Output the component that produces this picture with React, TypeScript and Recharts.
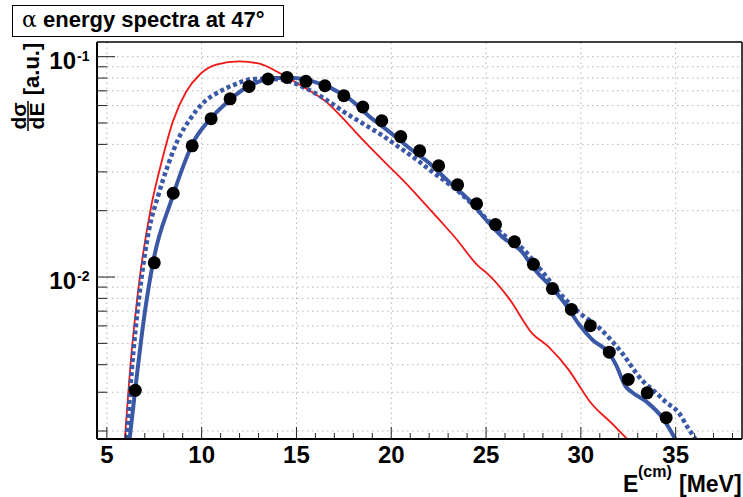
import React from "react";
import {
  ComposedChart,
  Line,
  Scatter,
  XAxis,
  YAxis,
  ReferenceLine
} from "recharts";

// measured points (E, dsigma/dE)
const dataPoints: [number, number][] = [
  [6.5, 0.00306], [7.5, 0.0116], [8.5, 0.024], [9.5, 0.0394],
  [10.5, 0.0523], [11.5, 0.0644], [12.5, 0.0733], [13.5, 0.0792],
  [14.5, 0.0805], [15.5, 0.0773], [16.5, 0.0738], [17.5, 0.0665],
  [18.5, 0.0591], [19.5, 0.0512], [20.5, 0.0434], [21.5, 0.0374],
  [22.5, 0.032], [23.5, 0.0262], [24.5, 0.0215], [25.5, 0.0173],
  [26.5, 0.01445], [27.5, 0.01142], [28.5, 0.00886], [29.5, 0.00713],
  [30.5, 0.00601], [31.5, 0.00456], [32.5, 0.00343], [33.5, 0.00298],
  [34.5, 0.0023]
];

// thin red curve
const redCurve: [number, number][] = [
  [5.95, 0.00184], [6.3, 0.0045], [6.74, 0.01], [7.35, 0.0212],
  [7.88, 0.0331], [8.49, 0.051], [9.19, 0.0695], [9.89, 0.0828],
  [10.77, 0.092], [12.0, 0.0952], [13.05, 0.0929], [14.1, 0.0844],
  [15.16, 0.0746], [16.6, 0.062], [17.44, 0.0526], [18.49, 0.042],
  [19.89, 0.0317], [20.6, 0.0276], [21.4, 0.0233], [22.53, 0.0182],
  [23.4, 0.015], [24.6, 0.0112], [25.0, 0.0105], [26.21, 0.008],
  [27.44, 0.00554], [28.3, 0.00482], [29.37, 0.00378], [30.07, 0.00306],
  [30.42, 0.00276], [31.65, 0.00216], [32.44, 0.00184]
];

// thick blue solid curve
const blueCurve: [number, number][] = [
  [6.2, 0.00184], [6.5, 0.0031], [7.0, 0.0069], [7.5, 0.0124],
  [8.41, 0.0224], [9.02, 0.0317], [9.54, 0.0406], [10.42, 0.0518],
  [11.3, 0.0616], [12.17, 0.0708], [13.05, 0.0773], [13.93, 0.08],
  [14.8, 0.08], [15.86, 0.0773], [16.85, 0.0718], [17.8, 0.0643],
  [18.84, 0.0536], [19.89, 0.0457], [20.95, 0.0385], [22.0, 0.0329],
  [23.05, 0.027], [24.1, 0.0224], [25.0, 0.0182], [25.86, 0.0152],
  [26.9, 0.013], [27.5, 0.011], [28.5, 0.0089], [29.2, 0.0075],
  [29.9, 0.0061], [30.6, 0.0052], [31.5, 0.0045], [31.85, 0.004],
  [32.35, 0.0032], [32.7, 0.003], [33.5, 0.0027], [34.3, 0.0023],
  [34.98, 0.00184]
];

// thick blue dotted curve
const blueDotted: [number, number][] = [
  [6.04, 0.00184], [6.4, 0.0046], [6.82, 0.0098], [7.2, 0.016],
  [7.7, 0.0233], [8.23, 0.0323], [8.75, 0.042], [9.37, 0.0518],
  [10.07, 0.0616], [10.95, 0.0695], [11.83, 0.0753], [12.7, 0.0792],
  [13.75, 0.0792], [14.63, 0.0773], [15.51, 0.0718], [16.6, 0.0635],
  [17.5, 0.0562], [18.49, 0.0498], [19.54, 0.0438], [20.42, 0.0388],
  [21.3, 0.0343], [22.17, 0.03], [23.05, 0.0264], [23.75, 0.0236],
  [24.8, 0.0192], [25.86, 0.0157], [26.91, 0.0135], [27.96, 0.0106],
  [29.02, 0.0082], [30.0, 0.0068], [30.95, 0.0059], [32.1, 0.0046],
  [33.23, 0.0034], [33.93, 0.003], [34.5, 0.0027], [35.2, 0.0024],
  [35.6, 0.0021], [36.04, 0.00184]
];

const xTicks = [
  5, 6, 7, 8, 9, 10, 11, 12, 13, 14, 15, 16, 17, 18, 19, 20, 21,
  22, 23, 24, 25, 26, 27, 28, 29, 30, 31, 32, 33, 34, 35, 36, 37, 38
];
const xGrid = [5, 10, 15, 20, 25, 30, 35];
const yTicks = [
  0.002, 0.003, 0.004, 0.005, 0.006, 0.007, 0.008, 0.009,
  0.01, 0.02, 0.03, 0.04, 0.05, 0.06, 0.07, 0.08, 0.09, 0.1
];

const FONT = "'Liberation Sans', Arial, sans-serif";
const BLUE = "#3a58a6";
const RED = "#f01818";
const GRID = "#b4b4b4";

const toXY = (arr: [number, number][]) => arr.map(([x, y]) => ({ x, y }));

function XTick(props: any) {
  const { x, y, payload } = props;
  const v = payload.value;
  const major = v % 5 === 0;
  return (
    <g>
      <line x1={x} x2={x} y1={y} y2={y - (major ? 12 : 6)} stroke="#222" strokeWidth={1} />
      {major && (
        <text x={x} y={y + 24} textAnchor="middle" fontFamily={FONT}
          fontWeight="bold" fontSize={24} fill="#000">
          {v}
        </text>
      )}
    </g>
  );
}

function YTick(props: any) {
  const { x, y, payload } = props;
  const lg = Math.log10(payload.value);
  const exp = Math.round(lg);
  const major = Math.abs(lg - exp) < 1e-6;
  return (
    <g>
      <line x1={x} x2={x + (major ? 18 : 10)} y1={y} y2={y} stroke="#222" strokeWidth={1} />
      {major && (
        <text x={x - 21} y={y + 12} textAnchor="end" fontFamily={FONT}
          fontWeight="bold" fontSize={24} fill="#000">
          10
        </text>
      )}
      {major && (
        <text x={x - 20} y={y + 4} fontFamily={FONT}
          fontWeight="bold" fontSize={14} fill="#000">
          {String(exp)}
        </text>
      )}
    </g>
  );
}

function Dot(props: any) {
  const { cx, cy } = props;
  return <circle cx={cx} cy={cy} r={6.5} fill="#000" />;
}

export default function App() {
  return (
    <div style={{ position: "absolute", left: 0, top: 0, width: 743, height: 497, background: "#fff" }}>
      <ComposedChart
        width={743}
        height={497}
        margin={{ top: 42, right: 1, bottom: 28, left: 0 }}
      >
        <XAxis
          type="number"
          dataKey="x"
          domain={[4.48, 38.5]}
          allowDataOverflow
          ticks={xTicks}
          interval={0}
          tick={<XTick />}
          tickLine={false}
          tickSize={0}
          tickMargin={0}
          height={30}
          axisLine={{ stroke: "#000", strokeWidth: 2 }}
        />
        <YAxis
          type="number"
          dataKey="y"
          scale="log"
          domain={[0.00184, 0.1166]}
          allowDataOverflow
          ticks={yTicks}
          interval={0}
          tick={<YTick />}
          tickLine={false}
          tickSize={0}
          tickMargin={0}
          width={97}
          axisLine={{ stroke: "#000", strokeWidth: 2 }}
        />
        {xGrid.map((v) => (
          <ReferenceLine key={"gx" + v} x={v} stroke={GRID} strokeDasharray="1.5 3.5" />
        ))}
        {yTicks.map((v) => (
          <ReferenceLine key={"gy" + v} y={v} stroke={GRID} strokeDasharray="1.5 3.5" />
        ))}
        <Scatter
          data={toXY(dataPoints)}
          dataKey="y"
          shape={<Dot />}
          isAnimationActive={false}
        />
        <Line
          data={toXY(redCurve)}
          dataKey="y"
          type="monotone"
          stroke={RED}
          strokeWidth={1.8}
          dot={false}
          isAnimationActive={false}
        />
        <Line
          data={toXY(blueDotted)}
          dataKey="y"
          type="monotone"
          stroke={BLUE}
          strokeWidth={4.5}
          strokeDasharray="4 3"
          dot={false}
          isAnimationActive={false}
        />
        <Line
          data={toXY(blueCurve)}
          dataKey="y"
          type="monotone"
          stroke={BLUE}
          strokeWidth={4}
          dot={false}
          isAnimationActive={false}
        />
      </ComposedChart>
      <svg
        width={743}
        height={497}
        style={{ position: "absolute", left: 0, top: 0, pointerEvents: "none" }}
      >
        <line x1={97} x2={742} y1={42} y2={42} stroke="#000" strokeWidth={1.5} />
        <line x1={742} x2={742} y1={42} y2={439} stroke="#000" strokeWidth={1.5} />
        <rect x={12.5} y={5.5} width={271} height={31} fill="#fff" stroke="#000" strokeWidth={1} />
        <text x={22} y={27} fontFamily={FONT} fontWeight="bold" fontSize={22} fill="#000">
          <tspan fontFamily="'DejaVu Serif', 'Liberation Serif', serif" fontWeight="normal">α</tspan>
          <tspan x={43}>energy spectra at 47°</tspan>
        </text>
        <g transform="translate(39, 69) rotate(-90)">
          <text textAnchor="middle" fontFamily={FONT} fontWeight="bold" fontSize={22} fill="#000">
            [a.u.]
          </text>
        </g>
        <g transform="translate(28, 116) rotate(-90)">
          <text x={0} y={-2.5} textAnchor="middle" fontFamily={FONT} fontWeight="bold" fontSize={21} fill="#000">
            dσ
          </text>
          <line x1={-15} x2={15} y1={0} y2={0} stroke="#000" strokeWidth={1.5} />
          <text x={0} y={16} textAnchor="middle" fontFamily={FONT} fontWeight="bold" fontSize={21} fill="#000">
            dE
          </text>
        </g>
        <text x={623} y={492} fontFamily={FONT} fontWeight="bold" fontSize={23} fill="#000">E</text>
        <text x={638} y={477} fontFamily={FONT} fontWeight="bold" fontSize={16} fill="#000">(cm)</text>
        <text x={679} y={492} fontFamily={FONT} fontWeight="bold" fontSize={23} fill="#000">[MeV]</text>
      </svg>
    </div>
  );
}
